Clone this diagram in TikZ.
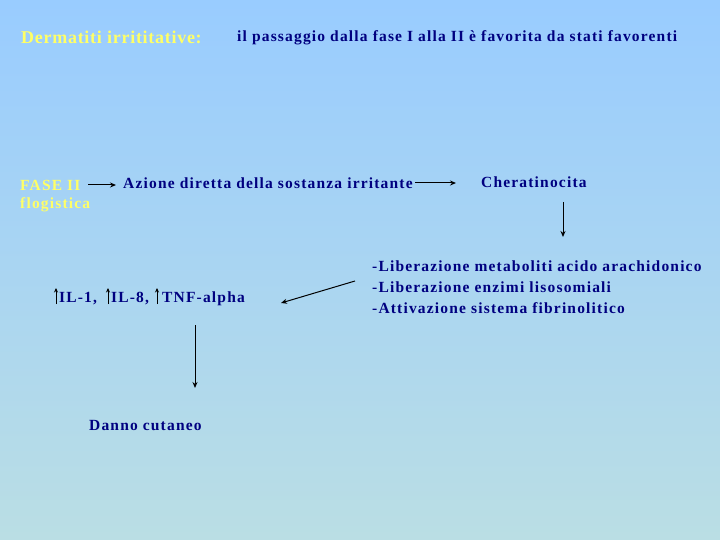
\documentclass[tikz,border=0pt]{standalone}
\usepackage{fontspec}
\setmainfont{Liberation Serif}
\newfontfamily\wideserif[LetterSpace=7.6]{Liberation Serif}
\newfontfamily\titleserif[LetterSpace=4]{Liberation Serif}
\usetikzlibrary{arrows.meta}
\definecolor{bgtop}{RGB}{153,204,255}
\definecolor{bgbot}{RGB}{186,222,228}
\definecolor{navy}{RGB}{0,0,128}
\definecolor{ylw}{RGB}{255,255,102}
\tikzset{
  txt/.style={anchor=west, inner sep=0pt, text=navy, font=\wideserif\bfseries\fontsize{15.5}{18}\selectfont},
  ytxt/.style={anchor=west, inner sep=0pt, text=ylw, font=\wideserif\bfseries\fontsize{15.5}{18}\selectfont},
  conn/.style={draw=black, line width=1pt, -{Stealth[length=6pt,width=5pt]}},
  upar/.style={draw=black, line width=0.7pt, -{Stealth[length=4.5pt,width=4pt]}}
}
\begin{document}
\begin{tikzpicture}[x=1pt,y=-1pt]
\shade[top color=bgtop, bottom color=bgbot] (0,0) rectangle (720,540);
\useasboundingbox (0,0) rectangle (720,540);

\node[ytxt, font=\titleserif\bfseries\fontsize{18}{21}\selectfont] (title) at (21,37) {Dermatiti irrititative:};
\node[txt] (sub) at (237,38) {il passaggio dalla fase I alla II è favorita da stati favorenti};

\node[ytxt] (fase) at (20,185) {FASE II};
\node[ytxt] (flog) at (20,205) {flogistica};
\node[txt] (azione) at (123,183) {Azione diretta della sostanza irritante};
\node[txt] (cherat) at (481,182) {Cheratinocita};
\node[txt, align=left, font=\wideserif\bfseries\fontsize{15.5}{21}\selectfont] (lib) at (372,287)
  {-Liberazione metaboliti acido arachidonico\\-Liberazione enzimi lisosomiali\\-Attivazione sistema fibrinolitico};
\node[txt] (il1) at (59,299) {IL-1,};
\node[txt] (il8) at (111,299) {IL-8,};
\node[txt] (tnf) at (162,299) {TNF-alpha};
\node[txt] (danno) at (89,426) {Danno cutaneo};

\coordinate (a1s) at (88,185);
\coordinate (a1e) at (116,185);
\draw[conn] (a1s) -- (a1e);
\coordinate (a2s) at (415,183);
\coordinate (a2e) at (456,183);
\draw[conn] (a2s) -- (a2e);
\coordinate (a3s) at (563,202);
\coordinate (a3e) at (563,237);
\draw[conn] (a3s) -- (a3e);
\coordinate (a4s) at (355,281);
\coordinate (a4e) at (281,303);
\draw[conn] (a4s) -- (a4e);
\coordinate (a5s) at (195,325);
\coordinate (a5e) at (195,388);
\draw[conn] (a5s) -- (a5e);

\draw[upar] (56,304) -- (56,288);
\draw[upar] (108,304) -- (108,288);
\draw[upar] (157,304) -- (157,288);
\end{tikzpicture}
\end{document}
